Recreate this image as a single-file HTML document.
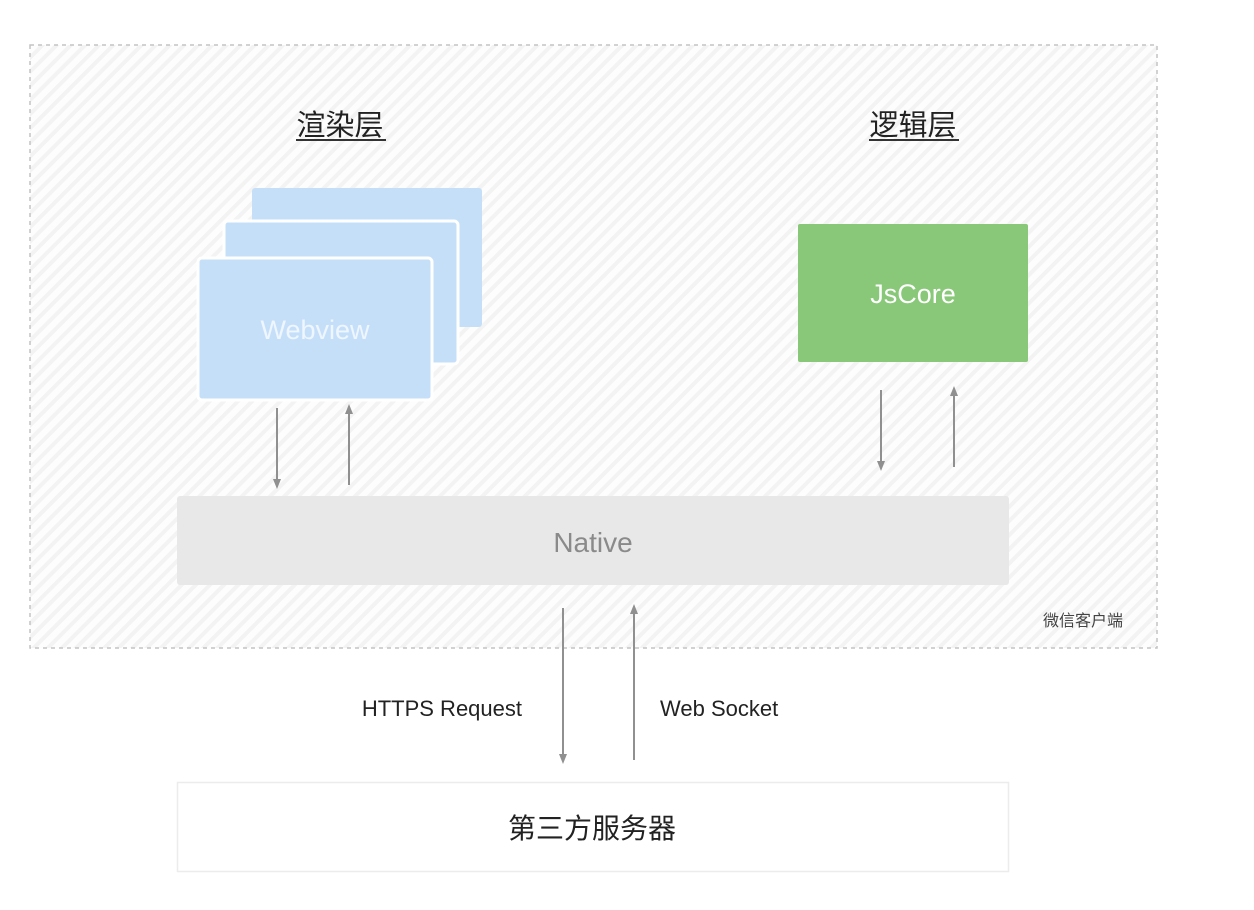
<!DOCTYPE html>
<html><head><meta charset="utf-8"><style>
html,body{margin:0;padding:0;background:#fff;width:1254px;height:910px;overflow:hidden}
text{font-family:"Liberation Sans","Noto Sans CJK SC",sans-serif}
</style></head><body>
<svg width="1254" height="910" viewBox="0 0 1254 910" xmlns="http://www.w3.org/2000/svg">
<defs>
<pattern id="st" width="10" height="10" patternUnits="userSpaceOnUse" patternTransform="rotate(45)">
<rect width="10" height="10" fill="#fdfdfd"/>
<rect width="4" height="10" fill="#f3f3f3"/>
</pattern>
<marker id="ah" viewBox="0 0 10 10" refX="5" refY="5" markerWidth="5" markerHeight="5" orient="auto-start-reverse">
<path d="M0,1 L10,5 L0,9 Z" fill="#909090"/>
</marker>
</defs>
<rect x="30" y="45" width="1127" height="603" fill="url(#st)" stroke="#c4c4c4" stroke-width="1.5" stroke-dasharray="4,4"/>
<text x="340" y="135" font-size="29" text-anchor="middle" fill="#222">渲染层</text>
<rect x="296" y="139" width="90" height="2" fill="#333"/>
<text x="913" y="135" font-size="29" text-anchor="middle" fill="#222">逻辑层</text>
<rect x="869" y="139" width="90" height="2" fill="#333"/>
<rect x="252" y="188" width="230" height="139" rx="3" fill="#c6dff9"/>
<rect x="224" y="221" width="234" height="143" rx="4" fill="#c6dff9" stroke="#fff" stroke-width="3"/>
<rect x="198" y="258" width="234" height="142" rx="4" fill="#c6dff9" stroke="#fff" stroke-width="3"/>
<text x="315" y="339" font-size="27" text-anchor="middle" fill="#eef6ff">Webview</text>
<rect x="798" y="224" width="230" height="138" rx="2" fill="#88c878"/>
<text x="913" y="303" font-size="27" text-anchor="middle" fill="#fff">JsCore</text>
<g stroke="#909090" stroke-width="2">
<line x1="277" y1="408" x2="277" y2="484" marker-end="url(#ah)"/>
<line x1="349" y1="485" x2="349" y2="409" marker-end="url(#ah)"/>
<line x1="881" y1="390" x2="881" y2="466" marker-end="url(#ah)"/>
<line x1="954" y1="467" x2="954" y2="391" marker-end="url(#ah)"/>
<line x1="563" y1="608" x2="563" y2="759" marker-end="url(#ah)"/>
<line x1="634" y1="760" x2="634" y2="609" marker-end="url(#ah)"/>
</g>
<rect x="177" y="496" width="832" height="89" rx="3" fill="#e8e8e8"/>
<text x="593" y="552" font-size="28" text-anchor="middle" fill="#8a8a8a">Native</text>
<text x="1083" y="626" font-size="16" text-anchor="middle" fill="#444">微信客户端</text>
<text x="522" y="716" font-size="22" text-anchor="end" fill="#222">HTTPS Request</text>
<text x="660" y="716" font-size="22" fill="#222">Web Socket</text>
<rect x="177.5" y="782.5" width="831" height="89" fill="#fff" stroke="#ececec" stroke-width="1.5"/>
<text x="592" y="838" font-size="28" text-anchor="middle" fill="#222">第三方服务器</text>
</svg>
</body></html>
